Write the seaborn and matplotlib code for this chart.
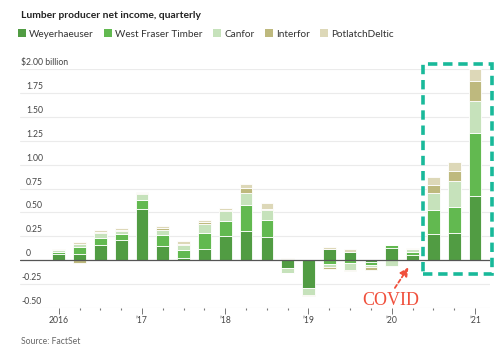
import numpy as np
import pandas as pd
import matplotlib
matplotlib.use("Agg")
import matplotlib.pyplot as plt
from matplotlib.patches import Rectangle, Patch
import seaborn as sns

quarters = ["2016Q1","2016Q2","2016Q3","2016Q4","2017Q1","2017Q2","2017Q3","2017Q4",
            "2018Q1","2018Q2","2018Q3","2018Q4","2019Q1","2019Q2","2019Q3","2019Q4",
            "2020Q1","2020Q2","2020Q3","2020Q4","2021Q1"]
companies = ["Weyerhaeuser", "West Fraser Timber", "Canfor", "Interfor", "PotlatchDeltic"]
weyerhaeuser = [0.06, 0.07, 0.16, 0.215, 0.54, 0.145, 0.02, 0.12, 0.25, 0.31, 0.24, -0.085,
                -0.29, 0.115, 0.09, -0.02, 0.13, 0.05, 0.27, 0.28, 0.67]
west_fraser = [0.025, 0.065, 0.07, 0.06, 0.09, 0.115, 0.09, 0.165, 0.165, 0.265, 0.18, 0.015,
               0.0, -0.04, -0.03, -0.025, 0.025, 0.035, 0.26, 0.28, 0.66]
canfor = [0.025, 0.03, 0.05, 0.035, 0.06, 0.06, 0.045, 0.095, 0.095, 0.13, 0.105, -0.045,
          -0.07, -0.03, -0.07, -0.025, -0.065, 0.03, 0.175, 0.265, 0.335]
interfor = [0.0, -0.025, 0.015, 0.01, 0.015, 0.015, 0.012, 0.017, 0.017, 0.05, 0.015, -0.005,
            -0.015, -0.022, -0.015, -0.03, 0.0, 0.005, 0.083, 0.108, 0.21]
potlatch = [0.01, 0.022, 0.02, 0.015, 0.012, 0.02, 0.03, 0.022, 0.018, 0.045, 0.06, 0.005,
            0.005, 0.028, 0.025, 0.005, 0.0, 0.012, 0.08, 0.094, 0.12]
series = [weyerhaeuser, west_fraser, canfor, interfor, potlatch]
colors = ["#519c43", "#62b950", "#c6e2bb", "#beb97e", "#ddd8b8"]
ytick_vals = [-0.5, -0.25, 0, 0.25, 0.5, 0.75, 1.0, 1.25, 1.5, 1.75, 2.0]
ytick_labels = ["-0.50", "-0.25", "0", "0.25", "0.50", "0.75", "1.00", "1.25", "1.50", "1.75", "$2.00 billion"]
year_labels = ["2016", "\u201917", "\u201918", "\u201919", "\u201920", "\u201921"]

sns.set_style("white")
plt.rcParams["font.family"] = ["Lato", "DejaVu Sans"]

fig = plt.figure(figsize=(5.0, 3.54), dpi=100)
ax = fig.add_axes([20/500, (354-308)/354, 470/500, (308-69)/354])

pos_base = np.zeros(len(quarters))
neg_base = np.zeros(len(quarters))
for name, vals, col in zip(companies, series, colors):
    v = np.array(vals, dtype=float)
    bottom = np.where(v >= 0, pos_base, neg_base)
    df = pd.DataFrame({"quarter": quarters, "value": v})
    sns.barplot(data=df, x="quarter", y="value", order=quarters, color=col,
                saturation=1, width=0.61, errorbar=None, bottom=bottom,
                edgecolor="white", linewidth=0.6, ax=ax)
    pos_base = pos_base + np.where(v >= 0, v, 0)
    neg_base = neg_base + np.where(v < 0, v, 0)

if ax.get_legend() is not None:
    ax.get_legend().remove()

ax.set_xlim(-1.86, 20.72)
ax.set_ylim(-0.5, 2.0)
ax.set_xlabel("")
ax.set_ylabel("")
for s in ax.spines.values():
    s.set_visible(False)

# gridlines
for yv in ytick_vals:
    if yv == 0:
        continue
    ax.axhline(yv, color="#ebebeb", lw=0.8, zorder=0)
ax.axhline(0, color="#555555", lw=0.9, zorder=5)

# y labels above the gridlines
ax.set_yticks([])
for yv, lab in zip(ytick_vals, ytick_labels):
    xoff = 0.0 if lab.startswith("$") or lab.startswith("-") else 0.01
    ax.text(xoff + 0.003, yv + 0.02, lab, transform=ax.get_yaxis_transform(),
            fontsize=6.2, color="#444444", ha="left", va="bottom", clip_on=False)

# x ticks
ax.set_xticks(range(0, 21, 4))
ax.set_xticklabels(year_labels, fontsize=6.2, color="#444444")
ax.set_xticks(range(21), minor=True)
ax.tick_params(axis="x", which="major", length=4, width=0.7, color="#777777", pad=2, bottom=True)
ax.tick_params(axis="x", which="minor", length=1.6, width=0.8, color="#777777", bottom=True)
ax.tick_params(axis="y", left=False)

# highlight box
ax.add_patch(Rectangle((17.49, -0.146), 3.31, 2.196, fill=False, edgecolor="#19b99a",
                       lw=2.6, linestyle=(0, (2.6, 1.6)), clip_on=False, zorder=6))

# COVID annotation
ax.annotate("", xy=(16.8, -0.075), xytext=(16.15, -0.29),
            arrowprops=dict(arrowstyle="-|>,head_length=0.5,head_width=0.25", color="#f0503c",
                            lw=1.3, linestyle=(0, (2, 1.5)), shrinkA=0, shrinkB=0))
ax.text(15.95, -0.42, "COVID", fontsize=13, color="#f0503c", ha="center", va="center",
        family="Liberation Serif")

# title, legend, source
fig.text(21/500, 1 - 16/354, "Lumber producer net income, quarterly", fontsize=7.4,
         fontweight="bold", color="#222222", ha="left", va="center")
handles = [Patch(facecolor=c, edgecolor="none") for c in colors]
leg = fig.legend(handles, companies, loc="center left", bbox_to_anchor=(18/500, 1 - 34/354),
                 ncol=5, frameon=False, fontsize=7.2, handlelength=0.75, handleheight=0.75,
                 handletextpad=0.35, columnspacing=1.05, borderaxespad=0, borderpad=0)
for t in leg.get_texts():
    t.set_color("#333333")
fig.text(21/500, 1 - 341/354, "Source: FactSet", fontsize=6.2, color="#666666",
         ha="left", va="center")

fig.savefig("out.png", dpi=100)
